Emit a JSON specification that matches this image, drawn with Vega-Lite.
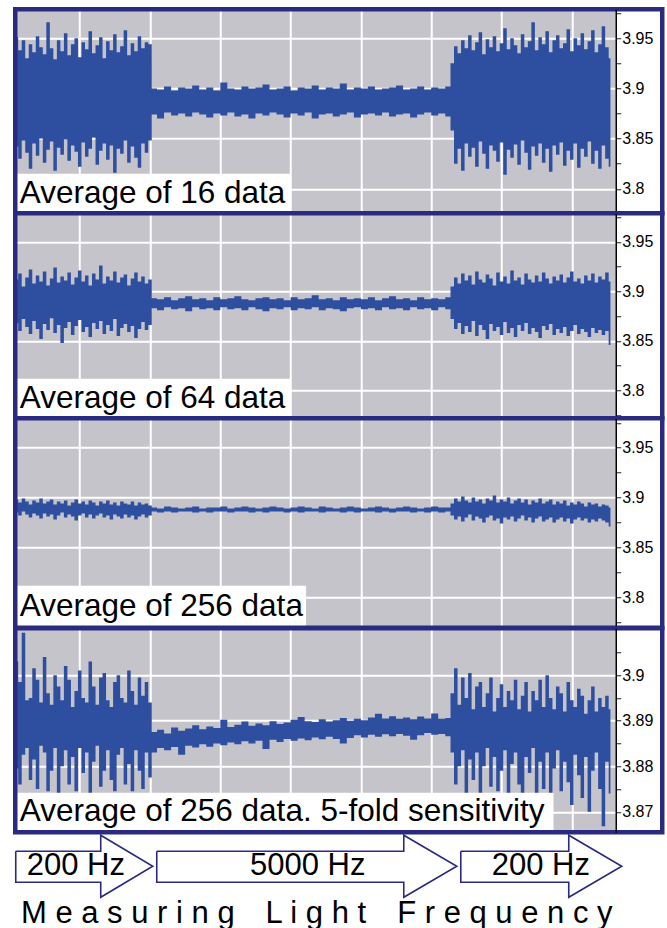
{
"$schema": "https://vega.github.io/schema/vega-lite/v6.json",
"background": "white",
"padding": {"left": 12.25, "top": 4.25, "right": 0, "bottom": 0},
"spacing": 0,
"bounds": "flush",
"config": {"view": {"stroke": null}, "font": "Liberation Sans"},
"datasets": {
"ann": [
{"panel":1,"label":"Average of 16 data","tx":1.47,"ty":3.786,"xmin":0.83,"xmax":92.87,"ax":86.26,"bx2":40.0,"ymin":3.7756,"by2":3.815},
{"panel":2,"label":"Average of 64 data","tx":1.47,"ty":3.7826,"xmin":0.83,"xmax":92.87,"ax":86.26,"bx2":40.0,"ymin":3.772,"by2":3.8118},
{"panel":3,"label":"Average of 256 data","tx":1.47,"ty":3.7812,"xmin":0.83,"xmax":92.87,"ax":86.26,"bx2":42.2,"ymin":3.7692,"by2":3.8114},
{"panel":4,"label":"Average of 256 data. 5-fold sensitivity","tx":1.47,"ty":3.8679,"xmin":0.83,"xmax":92.87,"ax":86.26,"bx2":77.4,"ymin":3.8655,"by2":3.8742}
],
"s1": [
{"t":1,"a":3.842,"b":3.951},{"t":1.5,"a":3.830,"b":3.938},{"t":2,"a":3.848,"b":3.948},{"t":2.5,"a":3.836,"b":3.930},{"t":3,"a":3.820,"b":3.944},{"t":3.5,"a":3.845,"b":3.936},{"t":4,"a":3.833,"b":3.952},{"t":4.5,"a":3.850,"b":3.941},{"t":5,"a":3.826,"b":3.934},{"t":5.5,"a":3.839,"b":3.966},{"t":6,"a":3.847,"b":3.940},{"t":6.5,"a":3.818,"b":3.929},{"t":7,"a":3.841,"b":3.948},{"t":7.5,"a":3.834,"b":3.937},{"t":8,"a":3.849,"b":3.955},{"t":8.5,"a":3.828,"b":3.933},{"t":9,"a":3.843,"b":3.944},{"t":9.5,"a":3.837,"b":3.950},{"t":10,"a":3.822,"b":3.931},{"t":10.5,"a":3.846,"b":3.946},{"t":11,"a":3.832,"b":3.939},{"t":11.5,"a":3.840,"b":3.957},{"t":12,"a":3.851,"b":3.935},{"t":12.5,"a":3.824,"b":3.943},{"t":13,"a":3.838,"b":3.951},{"t":13.5,"a":3.845,"b":3.930},{"t":14,"a":3.829,"b":3.947},{"t":14.5,"a":3.843,"b":3.938},{"t":15,"a":3.816,"b":3.954},{"t":15.5,"a":3.840,"b":3.936},{"t":16,"a":3.835,"b":3.942},{"t":16.5,"a":3.848,"b":3.958},{"t":17,"a":3.826,"b":3.933},{"t":17.5,"a":3.842,"b":3.945},{"t":18,"a":3.831,"b":3.937},{"t":18.5,"a":3.821,"b":3.952},{"t":19,"a":3.845,"b":3.940},{"t":19.5,"a":3.836,"b":3.946},{"t":20,"a":3.848,"b":3.944},
{"t":20.5,"a":3.874,"b":3.900},{"t":21.5,"a":3.870,"b":3.899},{"t":22.5,"a":3.876,"b":3.902},{"t":23.5,"a":3.873,"b":3.898},{"t":24.5,"a":3.875,"b":3.901},{"t":25.5,"a":3.872,"b":3.900},{"t":26.5,"a":3.876,"b":3.903},{"t":27.5,"a":3.874,"b":3.899},{"t":28.5,"a":3.871,"b":3.901},{"t":29.5,"a":3.875,"b":3.898},{"t":30.5,"a":3.873,"b":3.906},{"t":31.5,"a":3.876,"b":3.900},{"t":32.5,"a":3.872,"b":3.899},{"t":33.5,"a":3.874,"b":3.902},{"t":34.5,"a":3.870,"b":3.900},{"t":35.5,"a":3.875,"b":3.901},{"t":36.5,"a":3.873,"b":3.904},{"t":37.5,"a":3.876,"b":3.899},{"t":38.5,"a":3.874,"b":3.900},{"t":39.5,"a":3.871,"b":3.902},{"t":40.5,"a":3.875,"b":3.898},{"t":41.5,"a":3.873,"b":3.901},{"t":42.5,"a":3.876,"b":3.900},{"t":43.5,"a":3.870,"b":3.903},{"t":44.5,"a":3.874,"b":3.899},{"t":45.5,"a":3.875,"b":3.901},{"t":46.5,"a":3.872,"b":3.900},{"t":47.5,"a":3.874,"b":3.905},{"t":48.5,"a":3.876,"b":3.899},{"t":49.5,"a":3.871,"b":3.901},{"t":50.5,"a":3.874,"b":3.900},{"t":51.5,"a":3.875,"b":3.902},{"t":52.5,"a":3.873,"b":3.899},{"t":53.5,"a":3.876,"b":3.900},{"t":54.5,"a":3.872,"b":3.901},{"t":55.5,"a":3.874,"b":3.903},{"t":56.5,"a":3.875,"b":3.899},{"t":57.5,"a":3.871,"b":3.900},{"t":58.5,"a":3.874,"b":3.902},{"t":59.5,"a":3.876,"b":3.899},{"t":60.5,"a":3.873,"b":3.901},{"t":61.5,"a":3.875,"b":3.900},{"t":62.5,"a":3.872,"b":3.902},
{"t":63,"a":3.858,"b":3.925},{"t":63.5,"a":3.825,"b":3.942},{"t":64,"a":3.840,"b":3.935},{"t":64.5,"a":3.818,"b":3.948},{"t":65,"a":3.845,"b":3.940},{"t":65.5,"a":3.832,"b":3.953},{"t":66,"a":3.841,"b":3.938},{"t":66.5,"a":3.822,"b":3.946},{"t":67,"a":3.847,"b":3.956},{"t":67.5,"a":3.835,"b":3.934},{"t":68,"a":3.820,"b":3.949},{"t":68.5,"a":3.843,"b":3.941},{"t":69,"a":3.838,"b":3.952},{"t":69.5,"a":3.827,"b":3.937},{"t":70,"a":3.846,"b":3.945},{"t":70.5,"a":3.814,"b":3.960},{"t":71,"a":3.839,"b":3.939},{"t":71.5,"a":3.831,"b":3.950},{"t":72,"a":3.844,"b":3.943},{"t":72.5,"a":3.824,"b":3.935},{"t":73,"a":3.848,"b":3.954},{"t":73.5,"a":3.836,"b":3.941},{"t":74,"a":3.819,"b":3.947},{"t":74.5,"a":3.842,"b":3.966},{"t":75,"a":3.833,"b":3.938},{"t":75.5,"a":3.845,"b":3.951},{"t":76,"a":3.826,"b":3.944},{"t":76.5,"a":3.840,"b":3.957},{"t":77,"a":3.817,"b":3.936},{"t":77.5,"a":3.843,"b":3.948},{"t":78,"a":3.834,"b":3.953},{"t":78.5,"a":3.846,"b":3.940},{"t":79,"a":3.823,"b":3.945},{"t":79.5,"a":3.838,"b":3.959},{"t":80,"a":3.829,"b":3.937},{"t":80.5,"a":3.845,"b":3.950},{"t":81,"a":3.821,"b":3.943},{"t":81.5,"a":3.840,"b":3.955},{"t":82,"a":3.832,"b":3.939},{"t":82.5,"a":3.847,"b":3.947},{"t":83,"a":3.825,"b":3.958},{"t":83.5,"a":3.838,"b":3.936},{"t":84,"a":3.820,"b":3.944},{"t":84.5,"a":3.843,"b":3.962},{"t":85,"a":3.830,"b":3.941},{"t":85.5,"a":3.822,"b":3.930}
],
"s2": [
{"t":1,"a":3.868,"b":3.912},{"t":1.5,"a":3.860,"b":3.918},{"t":2,"a":3.872,"b":3.905},{"t":2.5,"a":3.864,"b":3.914},{"t":3,"a":3.857,"b":3.922},{"t":3.5,"a":3.870,"b":3.908},{"t":4,"a":3.862,"b":3.916},{"t":4.5,"a":3.852,"b":3.910},{"t":5,"a":3.867,"b":3.920},{"t":5.5,"a":3.861,"b":3.906},{"t":6,"a":3.873,"b":3.913},{"t":6.5,"a":3.858,"b":3.924},{"t":7,"a":3.866,"b":3.909},{"t":7.5,"a":3.848,"b":3.915},{"t":8,"a":3.863,"b":3.911},{"t":8.5,"a":3.869,"b":3.919},{"t":9,"a":3.856,"b":3.907},{"t":9.5,"a":3.865,"b":3.914},{"t":10,"a":3.871,"b":3.921},{"t":10.5,"a":3.859,"b":3.910},{"t":11,"a":3.864,"b":3.916},{"t":11.5,"a":3.854,"b":3.906},{"t":12,"a":3.868,"b":3.918},{"t":12.5,"a":3.862,"b":3.912},{"t":13,"a":3.870,"b":3.926},{"t":13.5,"a":3.857,"b":3.908},{"t":14,"a":3.866,"b":3.915},{"t":14.5,"a":3.860,"b":3.911},{"t":15,"a":3.872,"b":3.920},{"t":15.5,"a":3.855,"b":3.909},{"t":16,"a":3.863,"b":3.914},{"t":16.5,"a":3.867,"b":3.917},{"t":17,"a":3.859,"b":3.906},{"t":17.5,"a":3.865,"b":3.913},{"t":18,"a":3.853,"b":3.919},{"t":18.5,"a":3.862,"b":3.910},{"t":19,"a":3.869,"b":3.915},{"t":19.5,"a":3.861,"b":3.908},{"t":20,"a":3.866,"b":3.912},
{"t":20.5,"a":3.883,"b":3.893},{"t":21.5,"a":3.881,"b":3.892},{"t":22.5,"a":3.884,"b":3.894},{"t":23.5,"a":3.882,"b":3.891},{"t":24.5,"a":3.883,"b":3.893},{"t":25.5,"a":3.880,"b":3.895},{"t":26.5,"a":3.884,"b":3.892},{"t":27.5,"a":3.882,"b":3.893},{"t":28.5,"a":3.883,"b":3.891},{"t":29.5,"a":3.881,"b":3.894},{"t":30.5,"a":3.884,"b":3.892},{"t":31.5,"a":3.882,"b":3.893},{"t":32.5,"a":3.883,"b":3.895},{"t":33.5,"a":3.881,"b":3.892},{"t":34.5,"a":3.884,"b":3.891},{"t":35.5,"a":3.882,"b":3.893},{"t":36.5,"a":3.880,"b":3.894},{"t":37.5,"a":3.883,"b":3.892},{"t":38.5,"a":3.882,"b":3.893},{"t":39.5,"a":3.884,"b":3.891},{"t":40.5,"a":3.881,"b":3.894},{"t":41.5,"a":3.883,"b":3.892},{"t":42.5,"a":3.882,"b":3.893},{"t":43.5,"a":3.884,"b":3.896},{"t":44.5,"a":3.881,"b":3.892},{"t":45.5,"a":3.883,"b":3.893},{"t":46.5,"a":3.882,"b":3.891},{"t":47.5,"a":3.880,"b":3.894},{"t":48.5,"a":3.883,"b":3.892},{"t":49.5,"a":3.884,"b":3.893},{"t":50.5,"a":3.882,"b":3.892},{"t":51.5,"a":3.883,"b":3.894},{"t":52.5,"a":3.881,"b":3.891},{"t":53.5,"a":3.884,"b":3.893},{"t":54.5,"a":3.882,"b":3.895},{"t":55.5,"a":3.883,"b":3.892},{"t":56.5,"a":3.881,"b":3.893},{"t":57.5,"a":3.884,"b":3.891},{"t":58.5,"a":3.882,"b":3.894},{"t":59.5,"a":3.883,"b":3.892},{"t":60.5,"a":3.881,"b":3.893},{"t":61.5,"a":3.884,"b":3.892},{"t":62.5,"a":3.882,"b":3.894},
{"t":63,"a":3.872,"b":3.905},{"t":63.5,"a":3.862,"b":3.914},{"t":64,"a":3.868,"b":3.908},{"t":64.5,"a":3.857,"b":3.918},{"t":65,"a":3.865,"b":3.911},{"t":65.5,"a":3.859,"b":3.916},{"t":66,"a":3.870,"b":3.907},{"t":66.5,"a":3.855,"b":3.920},{"t":67,"a":3.866,"b":3.912},{"t":67.5,"a":3.861,"b":3.909},{"t":68,"a":3.852,"b":3.917},{"t":68.5,"a":3.867,"b":3.913},{"t":69,"a":3.860,"b":3.906},{"t":69.5,"a":3.864,"b":3.919},{"t":70,"a":3.856,"b":3.910},{"t":70.5,"a":3.869,"b":3.915},{"t":71,"a":3.858,"b":3.908},{"t":71.5,"a":3.863,"b":3.921},{"t":72,"a":3.854,"b":3.911},{"t":72.5,"a":3.866,"b":3.914},{"t":73,"a":3.860,"b":3.907},{"t":73.5,"a":3.868,"b":3.918},{"t":74,"a":3.857,"b":3.912},{"t":74.5,"a":3.863,"b":3.909},{"t":75,"a":3.859,"b":3.916},{"t":75.5,"a":3.853,"b":3.910},{"t":76,"a":3.865,"b":3.919},{"t":76.5,"a":3.861,"b":3.913},{"t":77,"a":3.867,"b":3.908},{"t":77.5,"a":3.856,"b":3.915},{"t":78,"a":3.862,"b":3.911},{"t":78.5,"a":3.858,"b":3.917},{"t":79,"a":3.864,"b":3.909},{"t":79.5,"a":3.855,"b":3.914},{"t":80,"a":3.860,"b":3.920},{"t":80.5,"a":3.866,"b":3.910},{"t":81,"a":3.857,"b":3.913},{"t":81.5,"a":3.862,"b":3.908},{"t":82,"a":3.859,"b":3.916},{"t":82.5,"a":3.854,"b":3.911},{"t":83,"a":3.863,"b":3.918},{"t":83.5,"a":3.858,"b":3.909},{"t":84,"a":3.861,"b":3.915},{"t":84.5,"a":3.856,"b":3.912},{"t":85,"a":3.860,"b":3.919},{"t":85.5,"a":3.846,"b":3.910}
],
"s3": [
{"t":1,"a":3.885,"b":3.898},{"t":1.5,"a":3.882,"b":3.895},{"t":2,"a":3.886,"b":3.899},{"t":2.5,"a":3.883,"b":3.896},{"t":3,"a":3.880,"b":3.893},{"t":3.5,"a":3.884,"b":3.897},{"t":4,"a":3.882,"b":3.895},{"t":4.5,"a":3.879,"b":3.899},{"t":5,"a":3.884,"b":3.894},{"t":5.5,"a":3.881,"b":3.896},{"t":6,"a":3.883,"b":3.898},{"t":6.5,"a":3.878,"b":3.893},{"t":7,"a":3.882,"b":3.896},{"t":7.5,"a":3.885,"b":3.894},{"t":8,"a":3.880,"b":3.897},{"t":8.5,"a":3.883,"b":3.892},{"t":9,"a":3.881,"b":3.895},{"t":9.5,"a":3.877,"b":3.898},{"t":10,"a":3.882,"b":3.894},{"t":10.5,"a":3.884,"b":3.896},{"t":11,"a":3.880,"b":3.893},{"t":11.5,"a":3.883,"b":3.897},{"t":12,"a":3.879,"b":3.895},{"t":12.5,"a":3.882,"b":3.892},{"t":13,"a":3.884,"b":3.896},{"t":13.5,"a":3.880,"b":3.894},{"t":14,"a":3.882,"b":3.897},{"t":14.5,"a":3.878,"b":3.893},{"t":15,"a":3.883,"b":3.895},{"t":15.5,"a":3.881,"b":3.892},{"t":16,"a":3.879,"b":3.896},{"t":16.5,"a":3.883,"b":3.894},{"t":17,"a":3.880,"b":3.893},{"t":17.5,"a":3.882,"b":3.896},{"t":18,"a":3.878,"b":3.892},{"t":18.5,"a":3.881,"b":3.895},{"t":19,"a":3.883,"b":3.893},{"t":19.5,"a":3.880,"b":3.894},{"t":20,"a":3.882,"b":3.892},
{"t":20.5,"a":3.886,"b":3.890},{"t":21.5,"a":3.885,"b":3.889},{"t":22.5,"a":3.886,"b":3.891},{"t":23.5,"a":3.885,"b":3.890},{"t":24.5,"a":3.886,"b":3.889},{"t":25.5,"a":3.886,"b":3.890},{"t":26.5,"a":3.885,"b":3.891},{"t":27.5,"a":3.886,"b":3.889},{"t":28.5,"a":3.885,"b":3.890},{"t":29.5,"a":3.886,"b":3.890},{"t":30.5,"a":3.886,"b":3.891},{"t":31.5,"a":3.885,"b":3.889},{"t":32.5,"a":3.886,"b":3.890},{"t":33.5,"a":3.886,"b":3.891},{"t":34.5,"a":3.885,"b":3.890},{"t":35.5,"a":3.886,"b":3.889},{"t":36.5,"a":3.885,"b":3.890},{"t":37.5,"a":3.886,"b":3.891},{"t":38.5,"a":3.886,"b":3.890},{"t":39.5,"a":3.885,"b":3.889},{"t":40.5,"a":3.886,"b":3.890},{"t":41.5,"a":3.885,"b":3.891},{"t":42.5,"a":3.886,"b":3.890},{"t":43.5,"a":3.886,"b":3.889},{"t":44.5,"a":3.885,"b":3.891},{"t":45.5,"a":3.886,"b":3.890},{"t":46.5,"a":3.886,"b":3.889},{"t":47.5,"a":3.885,"b":3.890},{"t":48.5,"a":3.886,"b":3.891},{"t":49.5,"a":3.885,"b":3.890},{"t":50.5,"a":3.886,"b":3.889},{"t":51.5,"a":3.886,"b":3.890},{"t":52.5,"a":3.885,"b":3.891},{"t":53.5,"a":3.886,"b":3.890},{"t":54.5,"a":3.885,"b":3.889},{"t":55.5,"a":3.886,"b":3.890},{"t":56.5,"a":3.886,"b":3.891},{"t":57.5,"a":3.885,"b":3.890},{"t":58.5,"a":3.886,"b":3.889},{"t":59.5,"a":3.885,"b":3.890},{"t":60.5,"a":3.886,"b":3.891},{"t":61.5,"a":3.885,"b":3.890},{"t":62.5,"a":3.886,"b":3.890},
{"t":63,"a":3.882,"b":3.894},{"t":63.5,"a":3.878,"b":3.899},{"t":64,"a":3.881,"b":3.896},{"t":64.5,"a":3.876,"b":3.901},{"t":65,"a":3.880,"b":3.897},{"t":65.5,"a":3.883,"b":3.895},{"t":66,"a":3.877,"b":3.900},{"t":66.5,"a":3.881,"b":3.896},{"t":67,"a":3.879,"b":3.898},{"t":67.5,"a":3.875,"b":3.894},{"t":68,"a":3.880,"b":3.899},{"t":68.5,"a":3.882,"b":3.897},{"t":69,"a":3.877,"b":3.902},{"t":69.5,"a":3.879,"b":3.895},{"t":70,"a":3.874,"b":3.898},{"t":70.5,"a":3.880,"b":3.896},{"t":71,"a":3.878,"b":3.900},{"t":71.5,"a":3.881,"b":3.894},{"t":72,"a":3.876,"b":3.897},{"t":72.5,"a":3.879,"b":3.899},{"t":73,"a":3.882,"b":3.895},{"t":73.5,"a":3.877,"b":3.898},{"t":74,"a":3.880,"b":3.893},{"t":74.5,"a":3.875,"b":3.897},{"t":75,"a":3.879,"b":3.895},{"t":75.5,"a":3.881,"b":3.899},{"t":76,"a":3.876,"b":3.894},{"t":76.5,"a":3.878,"b":3.896},{"t":77,"a":3.880,"b":3.898},{"t":77.5,"a":3.875,"b":3.893},{"t":78,"a":3.878,"b":3.896},{"t":78.5,"a":3.880,"b":3.894},{"t":79,"a":3.876,"b":3.897},{"t":79.5,"a":3.879,"b":3.892},{"t":80,"a":3.874,"b":3.895},{"t":80.5,"a":3.878,"b":3.893},{"t":81,"a":3.880,"b":3.896},{"t":81.5,"a":3.877,"b":3.894},{"t":82,"a":3.879,"b":3.891},{"t":82.5,"a":3.875,"b":3.895},{"t":83,"a":3.878,"b":3.893},{"t":83.5,"a":3.876,"b":3.894},{"t":84,"a":3.879,"b":3.891},{"t":84.5,"a":3.877,"b":3.893},{"t":85,"a":3.875,"b":3.892},{"t":85.5,"a":3.871,"b":3.890}
],
"s4": [
{"t":1,"a":3.8795,"b":3.9030},{"t":1.5,"a":3.8760,"b":3.8985},{"t":2,"a":3.8825,"b":3.9093},{"t":2.5,"a":3.8840,"b":3.8945},{"t":3,"a":3.8770,"b":3.8950},{"t":3.5,"a":3.8815,"b":3.9015},{"t":4,"a":3.8750,"b":3.8990},{"t":4.5,"a":3.8845,"b":3.8940},{"t":5,"a":3.8830,"b":3.9040},{"t":5.5,"a":3.8745,"b":3.8960},{"t":6,"a":3.8790,"b":3.8935},{"t":6.5,"a":3.8840,"b":3.9000},{"t":7,"a":3.8735,"b":3.8975},{"t":7.5,"a":3.8800,"b":3.8945},{"t":8,"a":3.8835,"b":3.9020},{"t":8.5,"a":3.8760,"b":3.8990},{"t":9,"a":3.8820,"b":3.8930},{"t":9.5,"a":3.8745,"b":3.8965},{"t":10,"a":3.8840,"b":3.9010},{"t":10.5,"a":3.8785,"b":3.8950},{"t":11,"a":3.8830,"b":3.8940},{"t":11.5,"a":3.8740,"b":3.9030},{"t":12,"a":3.8810,"b":3.8975},{"t":12.5,"a":3.8845,"b":3.8935},{"t":13,"a":3.8755,"b":3.8995},{"t":13.5,"a":3.8790,"b":3.9005},{"t":14,"a":3.8835,"b":3.8945},{"t":14.5,"a":3.8770,"b":3.8930},{"t":15,"a":3.8745,"b":3.8985},{"t":15.5,"a":3.8825,"b":3.9000},{"t":16,"a":3.8840,"b":3.8950},{"t":16.5,"a":3.8760,"b":3.8940},{"t":17,"a":3.8805,"b":3.9010},{"t":17.5,"a":3.8745,"b":3.8965},{"t":18,"a":3.8835,"b":3.8935},{"t":18.5,"a":3.8790,"b":3.8995},{"t":19,"a":3.8750,"b":3.8955},{"t":19.5,"a":3.8830,"b":3.8985},{"t":20,"a":3.8775,"b":3.8940},
{"t":20.5,"a":3.8830,"b":3.8875},{"t":21.5,"a":3.8840,"b":3.8880},{"t":22.5,"a":3.8835,"b":3.8872},{"t":23.5,"a":3.8842,"b":3.8885},{"t":24.5,"a":3.8825,"b":3.8878},{"t":25.5,"a":3.8845,"b":3.8883},{"t":26.5,"a":3.8841,"b":3.8890},{"t":27.5,"a":3.8848,"b":3.8881},{"t":28.5,"a":3.8843,"b":3.8887},{"t":29.5,"a":3.8850,"b":3.8884},{"t":30.5,"a":3.8846,"b":3.8902},{"t":31.5,"a":3.8852,"b":3.8886},{"t":32.5,"a":3.8848,"b":3.8891},{"t":33.5,"a":3.8855,"b":3.8898},{"t":34.5,"a":3.8850,"b":3.8889},{"t":35.5,"a":3.8856,"b":3.8894},{"t":36.5,"a":3.8838,"b":3.8890},{"t":37.5,"a":3.8858,"b":3.8899},{"t":38.5,"a":3.8853,"b":3.8893},{"t":39.5,"a":3.8860,"b":3.8896},{"t":40.5,"a":3.8856,"b":3.8902},{"t":41.5,"a":3.8861,"b":3.8908},{"t":42.5,"a":3.8857,"b":3.8899},{"t":43.5,"a":3.8863,"b":3.8897},{"t":44.5,"a":3.8859,"b":3.8903},{"t":45.5,"a":3.8865,"b":3.8898},{"t":46.5,"a":3.8860,"b":3.8901},{"t":47.5,"a":3.8850,"b":3.8906},{"t":48.5,"a":3.8862,"b":3.8900},{"t":49.5,"a":3.8868,"b":3.8904},{"t":50.5,"a":3.8863,"b":3.8901},{"t":51.5,"a":3.8869,"b":3.8907},{"t":52.5,"a":3.8865,"b":3.8915},{"t":53.5,"a":3.8870,"b":3.8905},{"t":54.5,"a":3.8866,"b":3.8910},{"t":55.5,"a":3.8871,"b":3.8904},{"t":56.5,"a":3.8867,"b":3.8907},{"t":57.5,"a":3.8858,"b":3.8903},{"t":58.5,"a":3.8868,"b":3.8909},{"t":59.5,"a":3.8873,"b":3.8905},{"t":60.5,"a":3.8869,"b":3.8916},{"t":61.5,"a":3.8871,"b":3.8904},{"t":62.5,"a":3.8866,"b":3.8906},
{"t":63,"a":3.8830,"b":3.8960},{"t":63.5,"a":3.8760,"b":3.9015},{"t":64,"a":3.8800,"b":3.8935},{"t":64.5,"a":3.8835,"b":3.8995},{"t":65,"a":3.8740,"b":3.8950},{"t":65.5,"a":3.8815,"b":3.9005},{"t":66,"a":3.8770,"b":3.8925},{"t":66.5,"a":3.8830,"b":3.8975},{"t":67,"a":3.8730,"b":3.8985},{"t":67.5,"a":3.8800,"b":3.8930},{"t":68,"a":3.8840,"b":3.8960},{"t":68.5,"a":3.8755,"b":3.8995},{"t":69,"a":3.8820,"b":3.8920},{"t":69.5,"a":3.8745,"b":3.8950},{"t":70,"a":3.8790,"b":3.8980},{"t":70.5,"a":3.8835,"b":3.8930},{"t":71,"a":3.8720,"b":3.8965},{"t":71.5,"a":3.8805,"b":3.8945},{"t":72,"a":3.8830,"b":3.8990},{"t":72.5,"a":3.8760,"b":3.8925},{"t":73,"a":3.8715,"b":3.8955},{"t":73.5,"a":3.8820,"b":3.8985},{"t":74,"a":3.8785,"b":3.8920},{"t":74.5,"a":3.8840,"b":3.8965},{"t":75,"a":3.8740,"b":3.8945},{"t":75.5,"a":3.8810,"b":3.8990},{"t":76,"a":3.8750,"b":3.8930},{"t":76.5,"a":3.8830,"b":3.9000},{"t":77,"a":3.8725,"b":3.8950},{"t":77.5,"a":3.8795,"b":3.8925},{"t":78,"a":3.8835,"b":3.8975},{"t":78.5,"a":3.8745,"b":3.8960},{"t":79,"a":3.8810,"b":3.8920},{"t":79.5,"a":3.8765,"b":3.8985},{"t":80,"a":3.8715,"b":3.8945},{"t":80.5,"a":3.8825,"b":3.8930},{"t":81,"a":3.8780,"b":3.8970},{"t":81.5,"a":3.8730,"b":3.8955},{"t":82,"a":3.8820,"b":3.8915},{"t":82.5,"a":3.8700,"b":3.8945},{"t":83,"a":3.8790,"b":3.8975},{"t":83.5,"a":3.8830,"b":3.8920},{"t":84,"a":3.8750,"b":3.8950},{"t":84.5,"a":3.8668,"b":3.8930},{"t":85,"a":3.8810,"b":3.8955},{"t":85.5,"a":3.8740,"b":3.8925}
],
"arrows": [
{"arrow":1,"o":1,"t":0.90,"v":80.5},{"arrow":1,"o":2,"t":12.99,"v":80.5},{"arrow":1,"o":3,"t":12.99,"v":96.5},{"arrow":1,"o":4,"t":20.39,"v":65.5},{"arrow":1,"o":5,"t":12.99,"v":34.5},{"arrow":1,"o":6,"t":12.99,"v":49.5},{"arrow":1,"o":7,"t":0.90,"v":49.5},{"arrow":1,"o":8,"t":0.90,"v":80.5},
{"arrow":2,"o":1,"t":20.96,"v":80.5},{"arrow":2,"o":2,"t":56.10,"v":80.5},{"arrow":2,"o":3,"t":56.10,"v":96.5},{"arrow":2,"o":4,"t":63.64,"v":65.5},{"arrow":2,"o":5,"t":56.10,"v":34.5},{"arrow":2,"o":6,"t":56.10,"v":49.5},{"arrow":2,"o":7,"t":20.96,"v":49.5},{"arrow":2,"o":8,"t":20.96,"v":80.5},
{"arrow":3,"o":1,"t":64.21,"v":80.5},{"arrow":3,"o":2,"t":79.57,"v":80.5},{"arrow":3,"o":3,"t":79.57,"v":96.5},{"arrow":3,"o":4,"t":87.11,"v":65.5},{"arrow":3,"o":5,"t":79.57,"v":34.5},{"arrow":3,"o":6,"t":79.57,"v":49.5},{"arrow":3,"o":7,"t":64.21,"v":49.5},{"arrow":3,"o":8,"t":64.21,"v":80.5}
],
"texts": [
{"label":"200 Hz","t":9.44,"v":65.5},
{"label":"5000 Hz","t":42.44,"v":65.5},
{"label":"200 Hz","t":75.59,"v":65.5},
{"label":"M e a s u r i n g\u2003L i g h t\u2003F r e q u e n c y","t":43.72,"v":18}
]
},
"vconcat": [
{
"width": 647, "height": 204,
"view": {"fill": "#c4c4ca", "stroke": null},
"resolve": {"axis": {"x": "independent", "y": "independent"}},
"layer": [
{"data": {"name": "s1"}, "mark": {"type": "area", "interpolate": "step", "color": "#2e4ea0"},
 "encoding": {
  "x": {"field": "t", "type": "quantitative", "scale": {"domain": [0.83, 92.87], "nice": false, "zero": false}, "axis": {"values": [10,20,30,40,50,60,70,80], "labels": false, "ticks": false, "domain": false, "grid": true, "gridColor": "white", "gridWidth": 2, "gridOpacity": 1, "title": null}},
  "y": {"field": "a", "type": "quantitative", "scale": {"domain": [3.7756, 3.9789], "nice": false, "zero": false}, "axis": {"orient": "right", "values": [3.8,3.85,3.9,3.95], "labels": false, "ticks": false, "domain": false, "grid": true, "gridColor": "white", "gridWidth": 2, "gridOpacity": 1, "title": null}},
  "y2": {"field": "b"}}},
{"data": {"name": "ann"}, "transform": [{"filter": "datum.panel == 1"}], "mark": {"type": "rect", "color": "white"},
 "encoding": {"x": {"field": "ax", "type": "quantitative", "scale": {"domain": [0.83, 92.87], "nice": false, "zero": false}, "axis": null}, "x2": {"field": "xmax"}}},
{"data": {"name": "ann"}, "transform": [{"filter": "datum.panel == 1"}], "mark": {"type": "rect", "color": "white"},
 "encoding": {"x": {"field": "xmin", "type": "quantitative", "scale": {"domain": [0.83, 92.87], "nice": false, "zero": false}, "axis": null}, "x2": {"field": "bx2"},
  "y": {"field": "ymin", "type": "quantitative", "scale": {"domain": [3.7756, 3.9789], "nice": false, "zero": false}, "axis": null}, "y2": {"field": "by2"}}},
{"data": {"name": "ann"}, "transform": [{"filter": "datum.panel == 1"}], "mark": {"type": "text", "align": "left", "baseline": "alphabetic", "fontSize": 31.5, "font": "Liberation Sans", "color": "black"},
 "encoding": {"x": {"field": "tx", "type": "quantitative", "scale": {"domain": [0.83, 92.87], "nice": false, "zero": false}, "axis": null},
  "y": {"field": "ty", "type": "quantitative", "scale": {"domain": [3.7756, 3.9789], "nice": false, "zero": false}, "axis": {"orient": "right", "offset": -46.5, "values": [3.8,3.825,3.85,3.875,3.9,3.925,3.95,3.975], "format": ".2~f", "labelExpr": "abs(datum.value*20 - round(datum.value*20)) < 0.01 ? datum.label : ''", "grid": false, "zindex": 1, "domainColor": "black", "domainWidth": 1.5, "tickColor": "#222", "tickSize": 5, "tickWidth": 1, "labelFontSize": 16, "labelColor": "black", "labelPadding": 1, "labelFont": "Liberation Sans", "labelFlush": false, "labelOverlap": false, "title": null}},
  "text": {"field": "label"}}},
{"data": {"name": "ann"}, "transform": [{"filter": "datum.panel == 1"}], "mark": {"type": "rect", "fill": "white", "fillOpacity": 0, "stroke": "#2a2a80", "strokeWidth": 4.5},
 "encoding": {"x": {"field": "xmin", "type": "quantitative", "scale": {"domain": [0.83, 92.87], "nice": false, "zero": false}, "axis": null}, "x2": {"field": "xmax"}}}
]
},
{
"width": 647, "height": 205,
"view": {"fill": "#c4c4ca", "stroke": null},
"resolve": {"axis": {"x": "independent", "y": "independent"}},
"layer": [
{"data": {"name": "s2"}, "mark": {"type": "area", "interpolate": "step", "color": "#2e4ea0"},
 "encoding": {
  "x": {"field": "t", "type": "quantitative", "scale": {"domain": [0.83, 92.87], "nice": false, "zero": false}, "axis": {"values": [10,20,30,40,50,60,70,80], "labels": false, "ticks": false, "domain": false, "grid": true, "gridColor": "white", "gridWidth": 2, "gridOpacity": 1, "title": null}},
  "y": {"field": "a", "type": "quantitative", "scale": {"domain": [3.772, 3.9788], "nice": false, "zero": false}, "axis": {"orient": "right", "values": [3.8,3.85,3.9,3.95], "labels": false, "ticks": false, "domain": false, "grid": true, "gridColor": "white", "gridWidth": 2, "gridOpacity": 1, "title": null}},
  "y2": {"field": "b"}}},
{"data": {"name": "ann"}, "transform": [{"filter": "datum.panel == 2"}], "mark": {"type": "rect", "color": "white"},
 "encoding": {"x": {"field": "ax", "type": "quantitative", "scale": {"domain": [0.83, 92.87], "nice": false, "zero": false}, "axis": null}, "x2": {"field": "xmax"}}},
{"data": {"name": "ann"}, "transform": [{"filter": "datum.panel == 2"}], "mark": {"type": "rect", "color": "white"},
 "encoding": {"x": {"field": "xmin", "type": "quantitative", "scale": {"domain": [0.83, 92.87], "nice": false, "zero": false}, "axis": null}, "x2": {"field": "bx2"},
  "y": {"field": "ymin", "type": "quantitative", "scale": {"domain": [3.772, 3.9788], "nice": false, "zero": false}, "axis": null}, "y2": {"field": "by2"}}},
{"data": {"name": "ann"}, "transform": [{"filter": "datum.panel == 2"}], "mark": {"type": "text", "align": "left", "baseline": "alphabetic", "fontSize": 31.5, "font": "Liberation Sans", "color": "black"},
 "encoding": {"x": {"field": "tx", "type": "quantitative", "scale": {"domain": [0.83, 92.87], "nice": false, "zero": false}, "axis": null},
  "y": {"field": "ty", "type": "quantitative", "scale": {"domain": [3.772, 3.9788], "nice": false, "zero": false}, "axis": {"orient": "right", "offset": -46.5, "values": [3.775,3.8,3.825,3.85,3.875,3.9,3.925,3.95,3.975], "format": ".2~f", "labelExpr": "abs(datum.value*20 - round(datum.value*20)) < 0.01 ? datum.label : ''", "grid": false, "zindex": 1, "domainColor": "black", "domainWidth": 1.5, "tickColor": "#222", "tickSize": 5, "tickWidth": 1, "labelFontSize": 16, "labelColor": "black", "labelPadding": 1, "labelFont": "Liberation Sans", "labelFlush": false, "labelOverlap": false, "title": null}},
  "text": {"field": "label"}}},
{"data": {"name": "ann"}, "transform": [{"filter": "datum.panel == 2"}], "mark": {"type": "rect", "fill": "white", "fillOpacity": 0, "stroke": "#2a2a80", "strokeWidth": 4.5},
 "encoding": {"x": {"field": "xmin", "type": "quantitative", "scale": {"domain": [0.83, 92.87], "nice": false, "zero": false}, "axis": null}, "x2": {"field": "xmax"}}}
]
},
{
"width": 647, "height": 209.5,
"view": {"fill": "#c4c4ca", "stroke": null},
"resolve": {"axis": {"x": "independent", "y": "independent"}},
"layer": [
{"data": {"name": "s3"}, "mark": {"type": "area", "interpolate": "step", "color": "#2e4ea0"},
 "encoding": {
  "x": {"field": "t", "type": "quantitative", "scale": {"domain": [0.83, 92.87], "nice": false, "zero": false}, "axis": {"values": [10,20,30,40,50,60,70,80], "labels": false, "ticks": false, "domain": false, "grid": true, "gridColor": "white", "gridWidth": 2, "gridOpacity": 1, "title": null}},
  "y": {"field": "a", "type": "quantitative", "scale": {"domain": [3.7692, 3.9796], "nice": false, "zero": false}, "axis": {"orient": "right", "values": [3.8,3.85,3.9,3.95], "labels": false, "ticks": false, "domain": false, "grid": true, "gridColor": "white", "gridWidth": 2, "gridOpacity": 1, "title": null}},
  "y2": {"field": "b"}}},
{"data": {"name": "ann"}, "transform": [{"filter": "datum.panel == 3"}], "mark": {"type": "rect", "color": "white"},
 "encoding": {"x": {"field": "ax", "type": "quantitative", "scale": {"domain": [0.83, 92.87], "nice": false, "zero": false}, "axis": null}, "x2": {"field": "xmax"}}},
{"data": {"name": "ann"}, "transform": [{"filter": "datum.panel == 3"}], "mark": {"type": "rect", "color": "white"},
 "encoding": {"x": {"field": "xmin", "type": "quantitative", "scale": {"domain": [0.83, 92.87], "nice": false, "zero": false}, "axis": null}, "x2": {"field": "bx2"},
  "y": {"field": "ymin", "type": "quantitative", "scale": {"domain": [3.7692, 3.9796], "nice": false, "zero": false}, "axis": null}, "y2": {"field": "by2"}}},
{"data": {"name": "ann"}, "transform": [{"filter": "datum.panel == 3"}], "mark": {"type": "text", "align": "left", "baseline": "alphabetic", "fontSize": 31.5, "font": "Liberation Sans", "color": "black"},
 "encoding": {"x": {"field": "tx", "type": "quantitative", "scale": {"domain": [0.83, 92.87], "nice": false, "zero": false}, "axis": null},
  "y": {"field": "ty", "type": "quantitative", "scale": {"domain": [3.7692, 3.9796], "nice": false, "zero": false}, "axis": {"orient": "right", "offset": -46.5, "values": [3.775,3.8,3.825,3.85,3.875,3.9,3.925,3.95,3.975], "format": ".2~f", "labelExpr": "abs(datum.value*20 - round(datum.value*20)) < 0.01 ? datum.label : ''", "grid": false, "zindex": 1, "domainColor": "black", "domainWidth": 1.5, "tickColor": "#222", "tickSize": 5, "tickWidth": 1, "labelFontSize": 16, "labelColor": "black", "labelPadding": 1, "labelFont": "Liberation Sans", "labelFlush": false, "labelOverlap": false, "title": null}},
  "text": {"field": "label"}}},
{"data": {"name": "ann"}, "transform": [{"filter": "datum.panel == 3"}], "mark": {"type": "rect", "fill": "white", "fillOpacity": 0, "stroke": "#2a2a80", "strokeWidth": 4.5},
 "encoding": {"x": {"field": "xmin", "type": "quantitative", "scale": {"domain": [0.83, 92.87], "nice": false, "zero": false}, "axis": null}, "x2": {"field": "xmax"}}}
]
},
{
"width": 647, "height": 204,
"view": {"fill": "#c4c4ca", "stroke": null},
"resolve": {"axis": {"x": "independent", "y": "independent"}},
"layer": [
{"data": {"name": "s4"}, "mark": {"type": "area", "interpolate": "step", "color": "#2e4ea0"},
 "encoding": {
  "x": {"field": "t", "type": "quantitative", "scale": {"domain": [0.83, 92.87], "nice": false, "zero": false}, "axis": {"values": [10,20,30,40,50,60,70,80], "labels": false, "ticks": false, "domain": false, "grid": true, "gridColor": "white", "gridWidth": 2, "gridOpacity": 1, "title": null}},
  "y": {"field": "a", "type": "quantitative", "scale": {"domain": [3.8655, 3.9103], "nice": false, "zero": false}, "axis": {"orient": "right", "values": [3.87,3.88,3.89,3.9], "labels": false, "ticks": false, "domain": false, "grid": true, "gridColor": "white", "gridWidth": 2, "gridOpacity": 1, "title": null}},
  "y2": {"field": "b"}}},
{"data": {"name": "ann"}, "transform": [{"filter": "datum.panel == 4"}], "mark": {"type": "rect", "color": "white"},
 "encoding": {"x": {"field": "ax", "type": "quantitative", "scale": {"domain": [0.83, 92.87], "nice": false, "zero": false}, "axis": null}, "x2": {"field": "xmax"}}},
{"data": {"name": "ann"}, "transform": [{"filter": "datum.panel == 4"}], "mark": {"type": "rect", "color": "white"},
 "encoding": {"x": {"field": "xmin", "type": "quantitative", "scale": {"domain": [0.83, 92.87], "nice": false, "zero": false}, "axis": null}, "x2": {"field": "bx2"},
  "y": {"field": "ymin", "type": "quantitative", "scale": {"domain": [3.8655, 3.9103], "nice": false, "zero": false}, "axis": null}, "y2": {"field": "by2"}}},
{"data": {"name": "ann"}, "transform": [{"filter": "datum.panel == 4"}], "mark": {"type": "text", "align": "left", "baseline": "alphabetic", "fontSize": 31.5, "font": "Liberation Sans", "color": "black"},
 "encoding": {"x": {"field": "tx", "type": "quantitative", "scale": {"domain": [0.83, 92.87], "nice": false, "zero": false}, "axis": null},
  "y": {"field": "ty", "type": "quantitative", "scale": {"domain": [3.8655, 3.9103], "nice": false, "zero": false}, "axis": {"orient": "right", "offset": -46.5, "values": [3.87,3.875,3.88,3.885,3.89,3.895,3.9,3.905], "format": ".2~f", "labelExpr": "abs(datum.value*100 - round(datum.value*100)) < 0.01 ? datum.label : ''", "grid": false, "zindex": 1, "domainColor": "black", "domainWidth": 1.5, "tickColor": "#222", "tickSize": 5, "tickWidth": 1, "labelFontSize": 16, "labelColor": "black", "labelPadding": 1, "labelFont": "Liberation Sans", "labelFlush": false, "labelOverlap": false, "title": null}},
  "text": {"field": "label"}}},
{"data": {"name": "ann"}, "transform": [{"filter": "datum.panel == 4"}], "mark": {"type": "rect", "fill": "white", "fillOpacity": 0, "stroke": "#2a2a80", "strokeWidth": 4.5},
 "encoding": {"x": {"field": "xmin", "type": "quantitative", "scale": {"domain": [0.83, 92.87], "nice": false, "zero": false}, "axis": null}, "x2": {"field": "xmax"}}}
]
},
{
"width": 647, "height": 99.5,
"view": {"stroke": null},
"layer": [
{"data": {"name": "arrows"}, "mark": {"type": "line", "color": "#2a2a80", "strokeWidth": 1.6, "strokeJoin": "miter"},
 "encoding": {"x": {"field": "t", "type": "quantitative", "scale": {"domain": [0.83, 92.87], "nice": false, "zero": false}, "axis": null},
  "y": {"field": "v", "type": "quantitative", "scale": {"domain": [0, 99.5], "nice": false, "zero": false}, "axis": null},
  "detail": {"field": "arrow"}, "order": {"field": "o"}}},
{"data": {"name": "texts"}, "mark": {"type": "text", "fontSize": 31, "align": "center", "baseline": "middle", "font": "Liberation Sans", "color": "black"},
 "encoding": {"x": {"field": "t", "type": "quantitative", "scale": {"domain": [0.83, 92.87], "nice": false, "zero": false}, "axis": null},
  "y": {"field": "v", "type": "quantitative", "scale": {"domain": [0, 99.5], "nice": false, "zero": false}, "axis": null},
  "text": {"field": "label"}}}
]
}
]
}
